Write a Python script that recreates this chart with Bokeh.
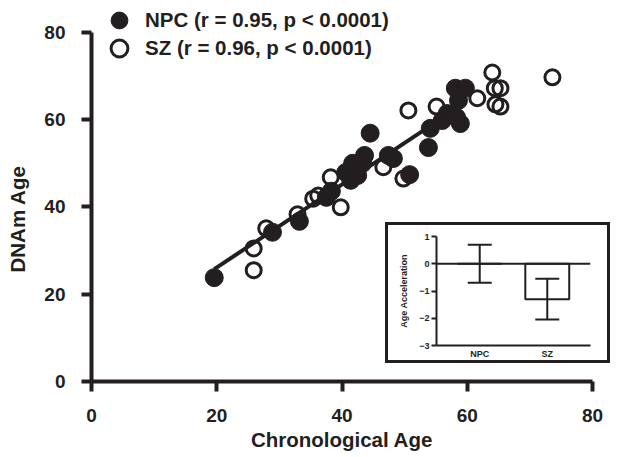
import numpy as np
from bokeh.plotting import figure
from bokeh.models import (Legend, LegendItem, Whisker, ColumnDataSource, FactorRange,
                          Range1d, FixedTicker, Span, TeeHead, Title)
from bokeh.layouts import column
from bokeh.embed import file_html
from bokeh.resources import INLINE

# ---- data ----
npc_chrono = [19.6, 28.9, 33.2, 37.5, 38.3, 40.6, 41.4, 41.7, 42.5, 43.3, 43.6, 44.5,
              47.4, 48.2, 50.8, 53.8, 54.1, 56.0, 56.8, 58.1, 59.7, 58.6, 58.9, 58.3]
npc_dnam = [23.8, 34.2, 36.7, 42.2, 43.6, 47.9, 46.1, 50.0, 47.2, 50.0, 51.8, 56.9,
            51.8, 51.1, 47.4, 53.6, 58.0, 59.8, 61.4, 67.2, 67.2, 64.4, 59.1, 60.5]
sz_chrono = [25.9, 25.9, 27.9, 32.9, 35.4, 36.2, 38.2, 39.8, 42.0, 46.6, 48.2, 49.8,
             50.6, 55.1, 61.6, 64.0, 64.4, 65.3, 64.5, 65.3, 73.6]
sz_dnam = [25.5, 30.5, 35.1, 38.3, 41.9, 42.6, 46.8, 39.9, 49.0, 49.1, 51.1, 46.5,
           62.1, 63.0, 64.9, 70.8, 67.2, 67.2, 63.5, 63.0, 69.7]

main_ticks = [0, 20, 40, 60, 80]

groups = ["NPC", "SZ"]
accel_mean = [0.0, -1.3]
accel_err = [0.7, 0.75]
inset_ticks = [1, 0, -1, -2, -3]

legend_labels = ["NPC (r = 0.95, p < 0.0001)", "SZ (r = 0.96, p < 0.0001)"]

INK = "#231f20"
FONT = "Liberation Sans"


def no_frame_align(fig):
    try:
        fig.frame_align = False
    except Exception:
        pass


# ---- main scatter ----
# y range extends above 80 so the legend (above the axis top) stays inside the frame
p = figure(width=632, height=457, x_range=Range1d(0, 80), y_range=Range1d(0, 87.3),
           output_backend="svg", toolbar_location=None,
           min_border_left=102, min_border_right=29, min_border_top=0, min_border_bottom=76)
no_frame_align(p)
p.grid.visible = False
p.outline_line_color = None
p.background_fill_color = None
for ax in (p.xaxis[0], p.yaxis[0]):
    ax.ticker = FixedTicker(ticks=main_ticks)
    ax.bounds = (0, 80)
    ax.axis_line_width = 4
    ax.axis_line_color = INK
    ax.major_tick_line_width = 4
    ax.major_tick_line_color = INK
    ax.major_tick_out = 10
    ax.major_tick_in = 0
    ax.minor_tick_line_color = None
    ax.major_label_text_font = FONT
    ax.major_label_text_font_style = "bold"
    ax.major_label_text_font_size = "19px"
    ax.major_label_text_color = INK
    ax.axis_label_text_font = FONT
    ax.axis_label_text_font_style = "bold"
    ax.axis_label_text_font_size = "20.5px"
    ax.axis_label_text_color = INK
p.xaxis.axis_label = "Chronological Age"
p.xaxis.major_label_standoff = 17
p.xaxis.axis_label_standoff = 3
p.yaxis.major_label_standoff = 16

ytitle = Title(text="DNAm Age", align="left", offset=109, standoff=26, text_font=FONT,
               text_font_style="bold", text_font_size="20.5px", text_color=INK)
p.add_layout(ytitle, "left")

sz = p.scatter(sz_chrono, sz_dnam, size=15, fill_color=None, line_color=INK, line_width=3)
npc = p.scatter(npc_chrono, npc_dnam, size=18, fill_color=INK, line_color=INK)

coef = np.polyfit(npc_chrono, npc_dnam, 1)
fx = np.array([min(npc_chrono), max(npc_chrono)])
p.line(fx, np.polyval(coef, fx), line_width=4, line_color=INK)

legend_style = dict(border_line_color=None, background_fill_alpha=0, padding=0, margin=0,
                    glyph_width=42, glyph_height=42, label_height=20, label_standoff=5,
                    label_text_font=FONT, label_text_font_style="bold",
                    label_text_font_size="20.5px", label_text_color=INK)
leg_npc = Legend(items=[LegendItem(label=legend_labels[0], renderers=[npc])],
                 location=(7, 340), **legend_style)
leg_sz = Legend(items=[LegendItem(label=legend_labels[1], renderers=[sz])],
                location=(7, 312), **legend_style)
p.add_layout(leg_npc)
p.add_layout(leg_sz)

# ---- inset bar chart ----
q = figure(width=225, height=141,
           x_range=FactorRange(*groups, range_padding=0.14, range_padding_units="absolute"),
           y_range=Range1d(-3, 1), output_backend="svg", toolbar_location=None,
           min_border_left=42, min_border_right=23, min_border_top=11, min_border_bottom=21)
no_frame_align(q)
q.grid.visible = False
q.outline_line_color = None
q.styles = {"border": "3px solid #231f20", "box-sizing": "border-box", "background": "white"}
q.margin = (-235, 0, 0, 396)

src = ColumnDataSource(dict(g=groups, m=accel_mean,
                            u=[m + e for m, e in zip(accel_mean, accel_err)],
                            l=[m - e for m, e in zip(accel_mean, accel_err)]))
q.vbar(x="g", top="m", bottom=0, width=0.65, source=src, fill_color=None,
       line_color=INK, line_width=2)
q.add_layout(Span(location=0, dimension="width", line_color=INK, line_width=2))
w = Whisker(base="g", upper="u", lower="l", source=src, line_color=INK, line_width=2,
            upper_head=TeeHead(size=24, line_color=INK, line_width=2),
            lower_head=TeeHead(size=24, line_color=INK, line_width=2))
q.add_layout(w)

for ax in (q.xaxis[0], q.yaxis[0]):
    ax.axis_line_width = 2
    ax.axis_line_color = INK
    ax.major_tick_line_width = 2
    ax.major_tick_line_color = INK
    ax.major_tick_in = 0
    ax.minor_tick_line_color = None
    ax.major_label_text_font = FONT
    ax.major_label_text_font_style = "bold"
    ax.major_label_text_font_size = "9px"
    ax.major_label_text_color = INK
q.yaxis.ticker = FixedTicker(ticks=inset_ticks)
q.yaxis.major_tick_out = 5
q.yaxis.major_label_standoff = 2
q.xaxis.major_tick_out = 0
q.xaxis.major_label_standoff = 3

inset_title = Title(text="Age Acceleration", align="center", standoff=16, text_font=FONT,
                    text_font_style="bold", text_font_size="9px", text_color=INK)
q.add_layout(inset_title, "left")

layout = column(p, q)
layout.margin = (0, 0, 0, -11)
open("out.html", "w").write(file_html(layout, INLINE))
